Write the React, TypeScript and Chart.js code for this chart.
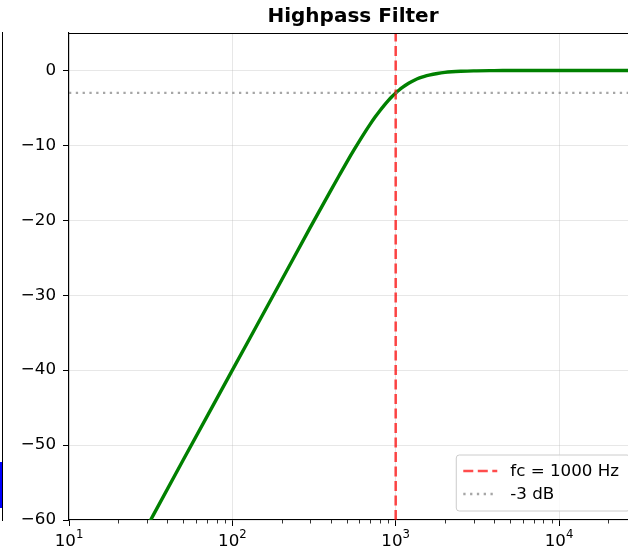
import React, { useEffect, useRef } from "react";
import { Chart, registerables } from "chart.js";

Chart.register(...registerables);

// ---- data ----
const chartTitle = "Highpass Filter";
const freqHz = [10, 20, 31.6, 50, 100, 200, 300, 400, 450, 500, 560, 630, 700, 750, 800, 850, 900, 950, 1000, 1050, 1100, 1200, 1300, 1400, 1500, 1600, 1800, 2000, 2200, 2500, 3000, 4000, 5000, 6000, 8000, 10000, 20000, 30000];
const gainDb = [-80, -68, -60, -52.0, -40.0, -28.0, -20.95, -16.03, -14.05, -12.3, -10.48, -8.66, -7.13, -6.19, -5.37, -4.65, -4.02, -3.48, -3.01, -2.61, -2.26, -1.71, -1.30, -1.00, -0.78, -0.62, -0.40, -0.26, -0.18, -0.11, -0.05, -0.02, -0.01, 0, 0, 0, 0, 0];
const cutoffLabel = "fc = 1000 Hz";
const cutoffX = [1000, 1000];
const cutoffY = [-60, 5];
const halfPowerLabel = "-3 dB";
const halfPowerX = [10, 30000];
const halfPowerY = [-3, -3];
const xMin = 10;
const xMax = 30000;
const yMin = -60;
const yMax = 5;
const xTickValues = [10, 100, 1000, 10000];
const xTickBase = "10";
const xTickExponents = ["1", "2", "3", "4"];
const yTickValues = [-60, -50, -40, -30, -20, -10, 0];

const FONT = "'DejaVu Sans', 'Liberation Sans', sans-serif";
const FS = 16.7;

const zip = (xs: number[], ys: number[]) => xs.map((x, i) => ({ x, y: ys[i] }));

const decorPlugin = {
  id: "decor",
  afterDraw(chart: any) {
    const ctx = chart.ctx;
    const a = chart.chartArea;
    const xs = chart.scales.x;
    ctx.save();
    // top spine
    ctx.strokeStyle = "#000";
    ctx.lineWidth = 1.1;
    ctx.beginPath();
    ctx.moveTo(a.left, a.top + 0.5);
    ctx.lineTo(a.right, a.top + 0.5);
    ctx.stroke();
    // minor ticks
    ctx.lineWidth = 0.8;
    for (let d = 10; d < xMax; d *= 10) {
      for (let m = 2; m <= 9; m++) {
        const v = d * m;
        if (v > xMax) break;
        const px = Math.round(xs.getPixelForValue(v)) + 0.5;
        ctx.beginPath();
        ctx.moveTo(px, a.bottom);
        ctx.lineTo(px, a.bottom + 3.5);
        ctx.stroke();
      }
    }
    // x tick labels: 10 with superscript exponent
    ctx.fillStyle = "#000";
    ctx.textBaseline = "alphabetic";
    ctx.textAlign = "left";
    xTickValues.forEach((v, i) => {
      const px = xs.getPixelForValue(v);
      ctx.font = `${FS}px ${FONT}`;
      const wb = ctx.measureText(xTickBase).width;
      ctx.font = `${FS * 0.7}px ${FONT}`;
      const we = ctx.measureText(xTickExponents[i]).width;
      const x0 = px - (wb + we) / 2;
      ctx.font = `${FS}px ${FONT}`;
      ctx.fillText(xTickBase, x0, a.bottom + 26);
      ctx.font = `${FS * 0.7}px ${FONT}`;
      ctx.fillText(xTickExponents[i], x0 + wb, a.bottom + 17.5);
    });
    // title
    ctx.fillStyle = "#000";
    ctx.font = `bold 20px ${FONT}`;
    ctx.textAlign = "center";
    ctx.textBaseline = "alphabetic";
    ctx.fillText(chartTitle, (a.left + a.right) / 2, 22);
    // legend
    ctx.font = `${FS}px ${FONT}`;
    const ds = chart.data.datasets.filter((d: any) => d.showInLegend);
    const tw = Math.max(...ds.map((d: any) => ctx.measureText(d.label).width));
    const right = a.right - 7;
    const bottom = a.bottom - 9;
    const h = 56;
    const w = 7 + 34 + 13 + tw + 11;
    const left = right - w;
    const top = bottom - h;
    ctx.beginPath();
    const r = 3;
    ctx.moveTo(left + r, top);
    ctx.lineTo(right - r, top);
    ctx.quadraticCurveTo(right, top, right, top + r);
    ctx.lineTo(right, bottom - r);
    ctx.quadraticCurveTo(right, bottom, right - r, bottom);
    ctx.lineTo(left + r, bottom);
    ctx.quadraticCurveTo(left, bottom, left, bottom - r);
    ctx.lineTo(left, top + r);
    ctx.quadraticCurveTo(left, top, left + r, top);
    ctx.closePath();
    ctx.fillStyle = "rgba(255,255,255,0.8)";
    ctx.fill();
    ctx.strokeStyle = "#cccccc";
    ctx.lineWidth = 1;
    ctx.stroke();
    ctx.textAlign = "left";
    ctx.textBaseline = "middle";
    ds.forEach((d: any, i: number) => {
      const cy = top + 16 + i * 23;
      ctx.strokeStyle = d.borderColor;
      ctx.lineWidth = d.borderWidth;
      ctx.setLineDash(d.borderDash || []);
      ctx.beginPath();
      ctx.moveTo(left + 7, cy);
      ctx.lineTo(left + 41, cy);
      ctx.stroke();
      ctx.setLineDash([]);
      ctx.fillStyle = "#000";
      ctx.fillText(d.label, left + 54, cy + 1);
    });
    ctx.restore();
  },
};

export default function App() {
  const ref = useRef<HTMLCanvasElement>(null);
  useEffect(() => {
    if (!ref.current) return;
    const chart = new Chart(ref.current, {
      type: "line",
      data: {
        datasets: [
          {
            label: "response",
            data: zip(freqHz, gainDb),
            borderColor: "#008000",
            borderWidth: 3.4,
            pointRadius: 0,
            cubicInterpolationMode: "monotone",
            order: 3,
          } as any,
          {
            label: cutoffLabel,
            data: zip(cutoffX, cutoffY),
            borderColor: "rgba(255,0,0,0.7)",
            borderWidth: 2.6,
            borderDash: [10, 4.5],
            pointRadius: 0,
            order: 2,
            showInLegend: true,
          },
          {
            label: halfPowerLabel,
            data: zip(halfPowerX, halfPowerY),
            borderColor: "rgba(128,128,128,0.7)",
            borderWidth: 2.3,
            borderDash: [2.3, 4.5],
            pointRadius: 0,
            order: 1,
            showInLegend: true,
          },
        ],
      },
      options: {
        responsive: false,
        animation: false,
        layout: { padding: { left: 0, right: 68, top: 33, bottom: 0 } },
        plugins: {
          legend: { display: false },
          tooltip: { enabled: false },
          title: { display: false },
        },
        scales: {
          x: {
            type: "logarithmic",
            min: xMin,
            max: xMax,
            afterBuildTicks: (s: any) => {
              s.ticks = xTickValues.map((v) => ({ value: v }));
            },
            afterFit: (s: any) => {
              s.height = 31;
            },
            ticks: {
              autoSkip: false,
              maxRotation: 0,
              padding: 2,
              color: "#000",
              font: { family: FONT, size: FS },
              callback: () => "",
            },
            grid: {
              color: "rgba(176,176,176,0.3)",
              lineWidth: 1,
              tickColor: "#000",
              tickLength: 6,
              tickWidth: 1,
            },
            border: { color: "#000", width: 1.1 },
          },
          y: {
            type: "linear",
            min: yMin,
            max: yMax,
            afterBuildTicks: (s: any) => {
              s.ticks = yTickValues.map((v) => ({ value: v }));
            },
            afterFit: (s: any) => {
              s.width = 69;
            },
            ticks: {
              padding: 7,
              color: "#000",
              font: { family: FONT, size: FS },
              callback: (v: any) => (Number(v) < 0 ? "\u2212" + Math.abs(Number(v)) : String(v)),
            },
            grid: {
              color: "rgba(176,176,176,0.3)",
              lineWidth: 1,
              tickColor: "#000",
              tickLength: 6,
              tickWidth: 1,
            },
            border: { color: "#000", width: 1.1 },
          },
        },
      },
      plugins: [decorPlugin],
    } as any);
    return () => chart.destroy();
  }, []);

  return (
    <div
      style={{
        position: "fixed",
        left: 0,
        top: 0,
        width: 628,
        height: 551,
        overflow: "hidden",
        background: "#fff",
      }}
    >
      <div style={{ position: "absolute", left: 2, top: 32, width: 1, height: 489, background: "#000" }} />
      <div style={{ position: "absolute", left: 0, top: 462, width: 2, height: 46, background: "#0000ff" }} />
      <canvas ref={ref} width={705} height={551} style={{ position: "absolute", left: 0, top: 0, display: "block" }} />
    </div>
  );
}
